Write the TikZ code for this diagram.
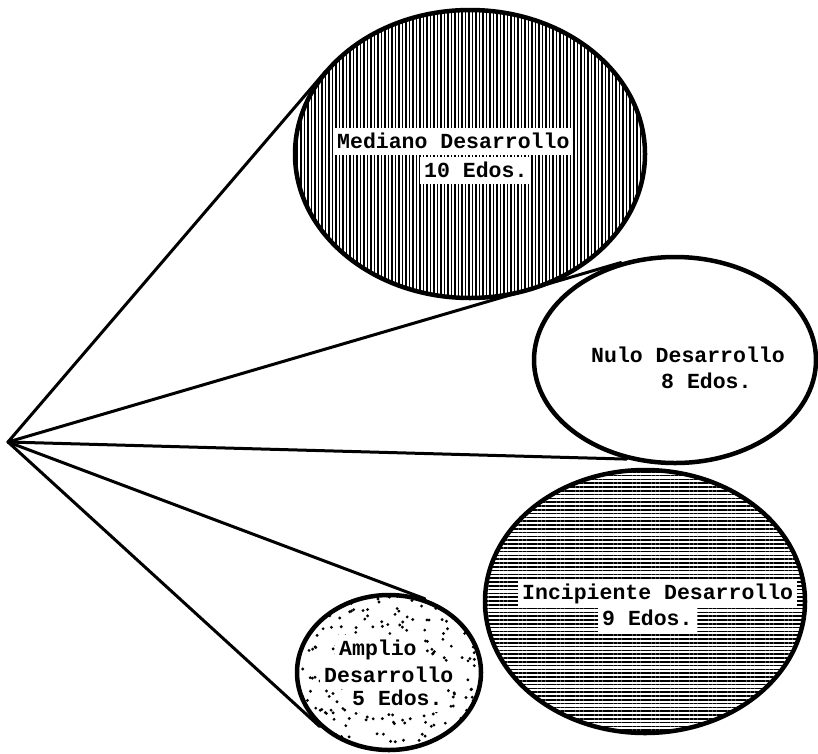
\documentclass[tikz,border=0pt]{standalone}
\usepackage{fontspec}
\newfontfamily\lblfont{Liberation Mono}
\usepackage{tikz}
\usetikzlibrary{shapes.geometric,patterns.meta}

\begin{document}
\begin{tikzpicture}[x=1pt, y=-1pt,
  blob/.style={ellipse, draw, line width=4.5pt, inner sep=0pt},
  ray/.style={line width=3pt, line cap=round},
  lbl/.style={font=\lblfont\bfseries\fontsize{21.5}{26}\selectfont, fill=white, anchor=base west,
    inner xsep=4pt, inner ysep=1pt, text height=19pt, text depth=6pt}]
  \useasboundingbox (0,0) rectangle (818,753);
  % the four groups
  \node[blob, minimum width=350pt, minimum height=288pt,
    pattern={Lines[angle=90,distance=3.5pt,line width=1.7pt]}] (med) at (470,154) {};
  \node[blob, minimum width=282pt, minimum height=206pt, fill=white] (nul) at (675,360) {};
  \node[blob, minimum width=320pt, minimum height=263pt,
    pattern={Lines[angle=0,distance=3.8pt,line width=1.7pt]}] (inc) at (645,601.5) {};
  \node[blob, minimum width=184pt, minimum height=155pt, fill=white] (amp) at (389,672.5) {};
  % stipple
  \begin{scope}
    \clip (389,672.5) ellipse [x radius=92, y radius=77.5];
    \pgfmathsetseed{7}
    \foreach \k in {1,...,280} {\fill ({389+92*rand},{672.5+78*rand}) circle (1.6);}
  \end{scope}
  % rays
  \coordinate (apex) at (8,442);
  \draw[ray] (apex) -- (med.150);
  \draw[ray] (apex) -- (nul.119);
  \draw[ray] (apex) -- (nul.244);
  \draw[ray] (apex) -- (amp.64);
  \draw[ray] (apex) -- (amp.218);
  % labels
  \node[lbl] (medA) at (333,148) {Mediano Desarrollo};
  \node[lbl] (medB) at (420,177) {10 Edos.};
  \node[lbl] (nulA) at (587,362) {Nulo Desarrollo};
  \node[lbl] (nulB) at (657,388) {8 Edos.};
  \node[lbl] (incA) at (518,599) {Incipiente Desarrollo};
  \node[lbl] (incB) at (598,625) {9 Edos.};
  \node[lbl] (ampA) at (335,655) {Amplio};
  \node[lbl] (ampB) at (320,682) {Desarrollo};
  \node[lbl] (ampC) at (348,705) {5 Edos.};
\end{tikzpicture}
\end{document}
